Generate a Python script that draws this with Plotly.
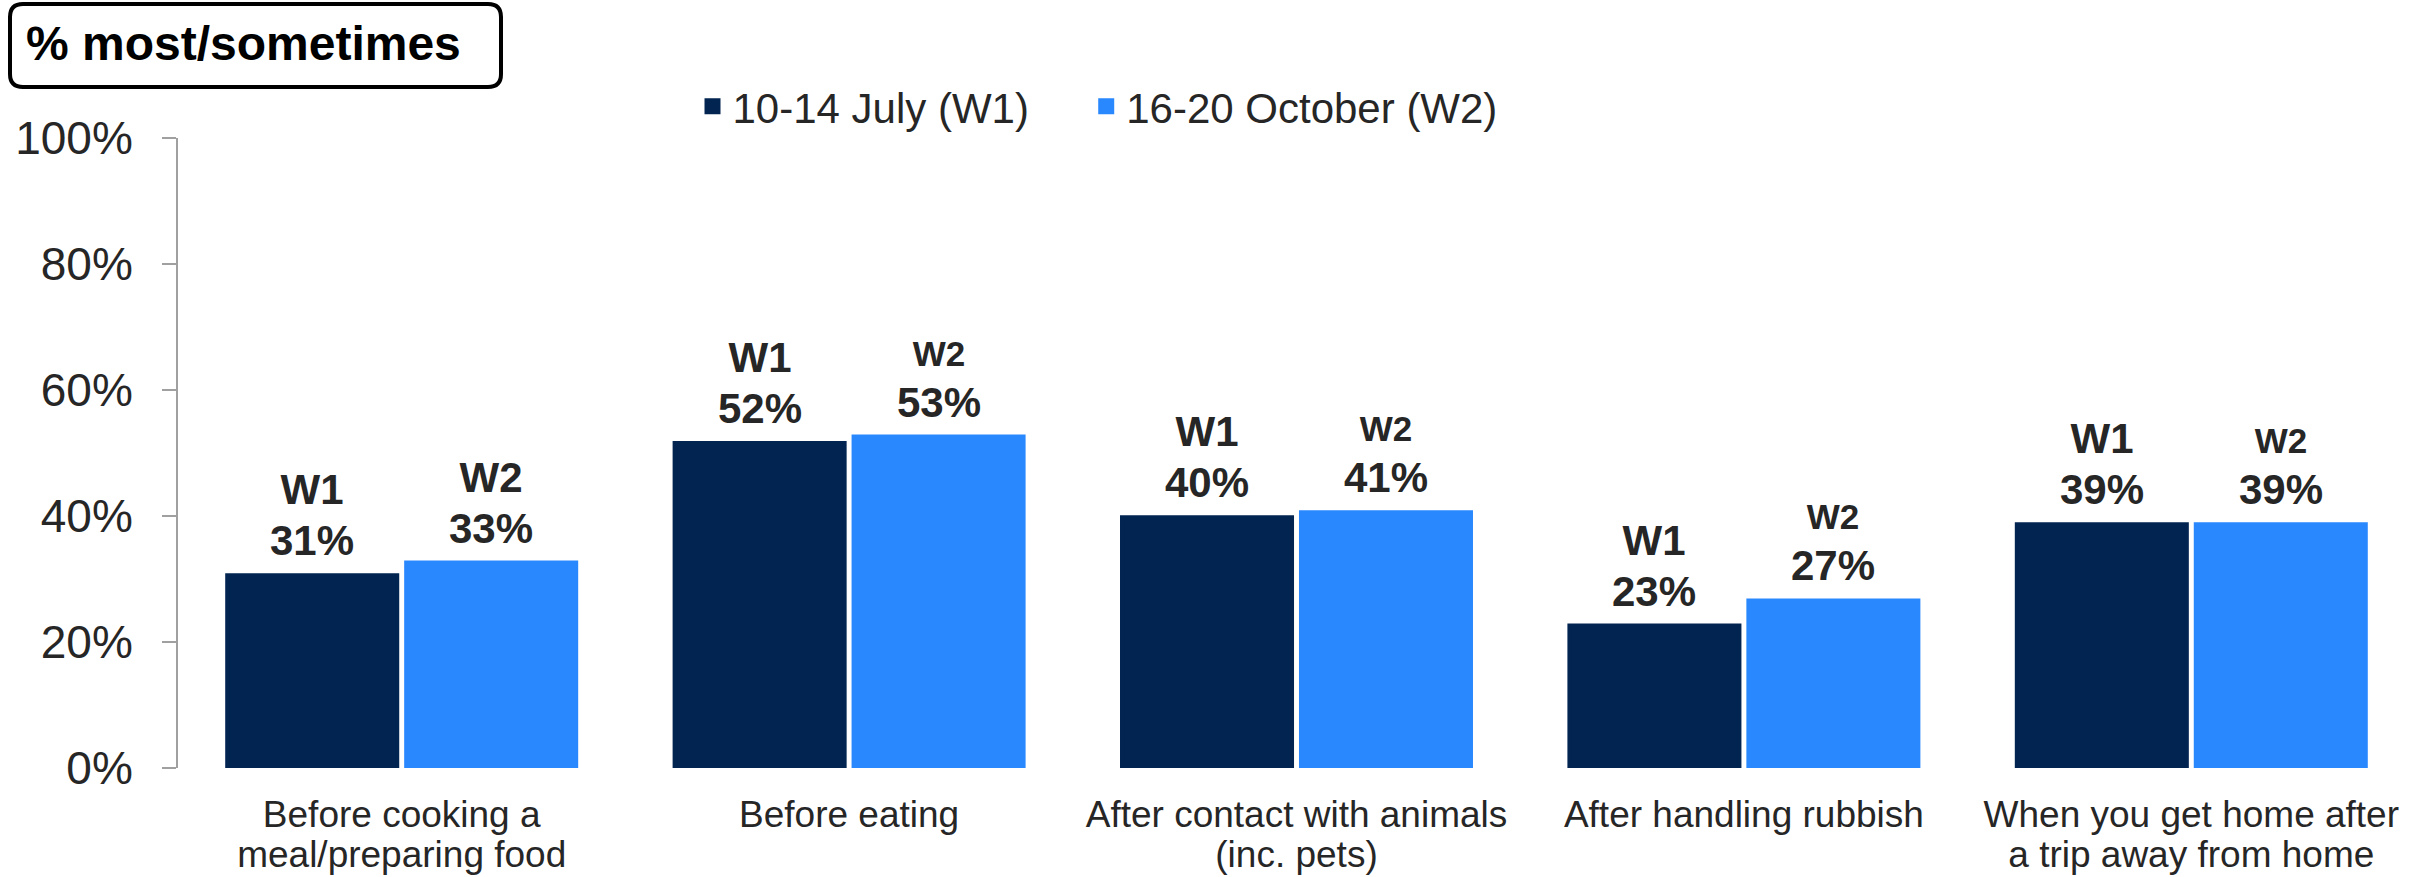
import plotly.graph_objects as go

# ---- data ----
categories = [
    "Before cooking a<br>meal/preparing food",
    "Before eating",
    "After contact with animals<br>(inc. pets)",
    "After handling rubbish",
    "When you get home after<br>a trip away from home",
]
series_names = ["10-14 July (W1)", "16-20 October (W2)"]
wave_tags = ["W1", "W2"]
w1_values = [0.306, 0.516, 0.398, 0.226, 0.387]
w2_values = [0.326, 0.526, 0.406, 0.266, 0.387]
y_tick_values = [0, 0.2, 0.4, 0.6, 0.8, 1.0]
y_tick_labels = ["0%", "20%", "40%", "60%", "80%", "100%"]
title_text = "% most/sometimes"

# ---- styles ----
FONT = "Arial, Liberation Sans, sans-serif"
TEXT_COL = "#262626"
COLORS = ["#022451", "#2A88FF"]
TAG_SIZES = [[42, 42, 42, 42, 42], [42, 35, 35, 35, 35]]
W, H = 2428, 877
L, R, T, B = 178, 13, 138, 109
BARGAP, GROUPGAP = 0.2, 0.05
OUTLINE = 4
LEGEND_X = [0.230, 0.406]
LEGEND_IDS = ["legend", "legend2"]

def wrap_lines(label, size):
    return "<br>".join(f"<span style='font-size:{size}px'>{p}</span>" for p in label.split("<br>"))

fig = go.Figure()
for name, vals, col, lg in zip(series_names, [w1_values, w2_values], COLORS, LEGEND_IDS):
    fig.add_trace(go.Bar(
        name=name,
        x=categories,
        y=vals,
        legend=lg,
        marker=dict(color=col, line=dict(width=OUTLINE, color=col)),
        hoverinfo="skip",
    ))

# data labels above each bar (offset to the bar's slot within the group)
plot_w = W - L - R
cat_w = plot_w / len(categories)
slot = cat_w * (1 - BARGAP) / 2
for si, (tag, vals, sizes) in enumerate(zip(wave_tags, [w1_values, w2_values], TAG_SIZES)):
    shift = (si - 0.5) * slot
    for cat, v, s in zip(categories, vals, sizes):
        fig.add_annotation(
            x=cat, y=v, xref="x", yref="y",
            xshift=shift, yshift=9,
            xanchor="center", yanchor="bottom", showarrow=False,
            text=(f"<span style='font-size:{s}px'>{tag}</span><br>"
                  f"<span style='font-size:42px'>{round(v * 100):d}%</span>"),
            font=dict(family=FONT, size=39.5, color=TEXT_COL, weight="bold"),
        )

legend_style = dict(
    orientation="h", y=1.05, xanchor="left", yanchor="middle",
    font=dict(family=FONT, size=42, color=TEXT_COL),
    bgcolor="rgba(0,0,0,0)", borderwidth=0,
    itemclick=False, itemdoubleclick=False,
)

fig.update_layout(
    width=W, height=H,
    margin=dict(l=L, r=R, t=T, b=B, pad=0, autoexpand=False),
    paper_bgcolor="white", plot_bgcolor="white",
    barmode="group", bargap=BARGAP, bargroupgap=GROUPGAP,
    font=dict(family=FONT, color=TEXT_COL),
    showlegend=True,
    legend=dict(x=LEGEND_X[0], **legend_style),
    legend2=dict(x=LEGEND_X[1], **legend_style),
    xaxis=dict(
        tickmode="array",
        tickvals=categories,
        ticktext=[wrap_lines(c, 37) for c in categories],
        tickfont=dict(family=FONT, size=31, color=TEXT_COL),
        showline=False, ticks="", showgrid=False, zeroline=False,
        ticklabelstandoff=27, automargin=False,
    ),
    yaxis=dict(
        range=[0, 1],
        tickmode="array", tickvals=y_tick_values, ticktext=y_tick_labels,
        tickfont=dict(family=FONT, size=46, color=TEXT_COL),
        showline=True, linecolor="#A0A0A0", linewidth=2,
        ticks="outside", ticklen=14, tickwidth=2, tickcolor="#A0A0A0",
        showgrid=False, zeroline=False,
        ticklabelstandoff=20, automargin=False,
    ),
)

# Title box with rounded corners (pixel-sized, anchored at plot top-left)
x0, x1 = 10 - L, 501 - L
yt, yb = T - 4, T - 87
r = 13
path = (f"M{x0 + r},{yt} H{x1 - r} Q{x1},{yt} {x1},{yt - r} V{yb + r} "
        f"Q{x1},{yb} {x1 - r},{yb} H{x0 + r} Q{x0},{yb} {x0},{yb + r} "
        f"V{yt - r} Q{x0},{yt} {x0 + r},{yt} Z")
fig.add_shape(
    type="path", path=path,
    xref="paper", yref="paper", xsizemode="pixel", ysizemode="pixel",
    xanchor=0, yanchor=1,
    line=dict(color="black", width=4), fillcolor="rgba(0,0,0,0)",
)
fig.add_annotation(
    text=f"<b>{title_text}</b>",
    xref="paper", yref="paper", x=0, y=1, xanchor="left", yanchor="middle",
    xshift=24 - L, yshift=T - 43, showarrow=False,
    font=dict(family=FONT, size=48, color="black"),
)

fig.write_html(
    "out.html",
    config={"displayModeBar": False},
    post_script="document.body.style.margin='0px';",
)
